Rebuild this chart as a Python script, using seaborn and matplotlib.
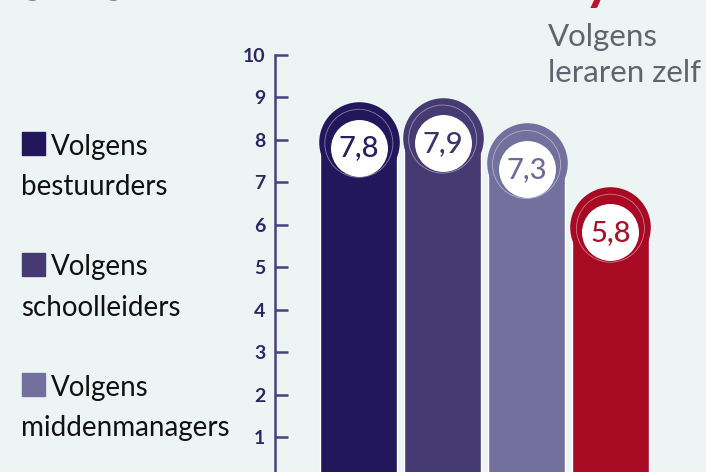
import numpy as np
import pandas as pd
import matplotlib.pyplot as plt
import seaborn as sns
from matplotlib.patches import Rectangle

# Values
groups = ["Volgens bestuurders", "Volgens schoolleiders", "Volgens middenmanagers", "Volgens leraren zelf"]
scores = [7.8, 7.9, 7.3, 5.8]
score_labels = ["7,8", "7,9", "7,3", "5,8"]
bar_colors = ["#22175a", "#453a72", "#73709e", "#a80a24"]
text_colors = ["#2a1e5e", "#3f336d", "#6f6a9a", "#a8122a"]
legend_lines = [("Volgens", "bestuurders"), ("Volgens", "schoolleiders"), ("Volgens", "middenmanagers")]
yticks = list(range(1, 11))

bg = "#edf5f4"
sns.set_style("white")
plt.rcParams["font.family"] = ["Lato", "DejaVu Sans"]

df = pd.DataFrame({"group": groups, "score": scores})

fig = plt.figure(figsize=(7.06, 4.72), dpi=100)
fig.patch.set_facecolor(bg)
W, H = 706, 472
ax = fig.add_axes([275 / W, -7.6 / H, 431 / W, 424.6 / H])
ax.set_facecolor(bg)

sns.barplot(data=df, x="group", y="score", hue="group", palette=bar_colors,
            width=0.92, legend=False, ax=ax, saturation=1)

# rounded caps with white value circles
for i, (v, c, tc, lab) in enumerate(zip(scores, bar_colors, text_colors, score_labels)):
    ax.scatter([i], [v + 0.15], s=58 ** 2, color=c, clip_on=False, zorder=3, linewidths=0)
    ax.scatter([i], [v + 0.12], s=49 ** 2, facecolor="none", edgecolor="white",
               linewidths=0.6, alpha=0.45, clip_on=False, zorder=4)
    ax.scatter([i], [v + 0.02], s=41 ** 2, color="white", clip_on=False, zorder=5, linewidths=0)
    ax.text(i, v, lab, ha="center", va="center", color=tc, fontsize=21,
            fontweight="medium", zorder=6)

ax.set_xlim(-1.0, 4.14)
ax.set_ylim(0, 10)
ax.set_xlabel("")
ax.set_ylabel("")
ax.set_xticks([])
ax.set_yticks(yticks)
ax.set_yticklabels([str(t) for t in yticks])
ax.tick_params(axis="y", left=True, direction="in", length=9, width=1.8, color="#4a3f80",
               labelcolor="#2f2566", labelsize=14, pad=7)
for lbl in ax.get_yticklabels():
    lbl.set_fontweight("bold")
for s in ["top", "right", "bottom"]:
    ax.spines[s].set_visible(False)
ax.spines["left"].set_color("#4a3f80")
ax.spines["left"].set_linewidth(1.8)

# legend on the left
for k, (l1, l2) in enumerate(legend_lines):
    top = 132 + k * 120.5
    fig.add_artist(Rectangle((22 / W, 1 - (top + 23) / H), 23 / W, 23 / H,
                             transform=fig.transFigure, color=bar_colors[k]))
    fig.text(51 / W, 1 - (top + 23) / H, l1, fontsize=20, color="#111111", va="baseline")
    fig.text(21 / W, 1 - (top + 63) / H, l2, fontsize=20, color="#111111", va="baseline")

# label of the red bar (top right)
fig.text(548 / W, 1 - 46 / H, "Volgens", fontsize=22.5, color="#5d6670", va="baseline")
fig.text(548 / W, 1 - 82 / H, "leraren zelf", fontsize=22.5, color="#5d6670", va="baseline")

# remains of the cropped heading
fig.text(22 / W, 1 + 7 / H, "g", fontsize=30, color="#111111", va="baseline", fontweight="bold")
fig.text(103 / W, 1 + 7 / H, "g", fontsize=30, color="#111111", va="baseline", fontweight="bold")
fig.text(584 / W, 1 + 1 / H, "y", fontsize=40, color="#c0122a", va="baseline", fontweight="bold")

fig.savefig("out.png", dpi=100, facecolor=bg)
